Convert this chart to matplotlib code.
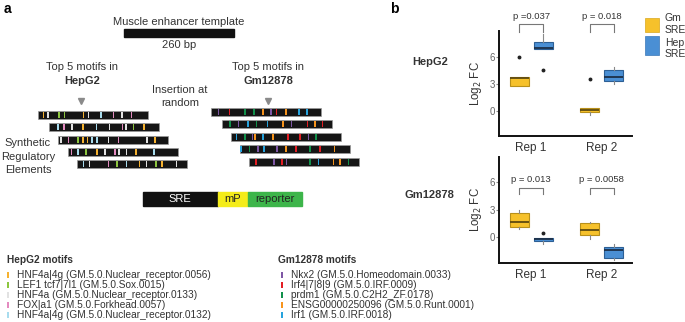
import matplotlib.pyplot as plt
from matplotlib.patches import Rectangle

plt.rcParams['font.family'] = ['Liberation Sans', 'DejaVu Sans']

# --- panel a: motivos y elementos sinteticos ---
hepg2_motifs = ["HNF4a|4g (GM.5.0.Nuclear_receptor.0056)",
                "LEF1 tcf7|7l1 (GM.5.0.Sox.0015)",
                "HNF4a (GM.5.0.Nuclear_receptor.0133)",
                "FOX|a1 (GM.5.0.Forkhead.0057)",
                "HNF4a|4g (GM.5.0.Nuclear_receptor.0132)"]
hepg2_colors = ['#F6B230', '#8DC63F', '#E2E2E2', '#E48BC0', '#A8DCEE']

gm_motifs = ["Nkx2 (GM.5.0.Homeodomain.0033)",
             "Irf4|7|8|9 (GM.5.0.IRF.0009)",
             "prdm1 (GM.5.0.C2H2_ZF.0178)",
             "ENSG00000250096 (GM.5.0.Runt.0001)",
             "Irf1 (GM.5.0.IRF.0018)"]
gm_colors = ['#7E57A5', '#E31E24', '#11914B', '#F7941D', '#27A3DD']

template_bp = 260

# posicion (bp) e indice del motivo en cada elemento sintetico
hepg2_pos = [[13, 23, 50, 62, 107, 119, 149, 178, 199, 221],
             [21, 35, 53, 80, 112, 142, 173, 181, 199, 224],
             [6, 24, 46, 58, 69, 79, 91, 118, 142, 209, 229],
             [9, 24, 43, 69, 88, 112, 121, 139, 161, 204],
             [16, 30, 75, 95, 118, 148, 165, 187, 201, 236]]
hepg2_idx = [[0, 2, 1, 1, 0, 2, 4, 3, 2, 3],
             [4, 3, 2, 0, 4, 2, 3, 2, 1, 0],
             [2, 3, 1, 0, 0, 4, 4, 2, 3, 2, 0],
             [3, 4, 1, 0, 2, 3, 2, 2, 0, 4],
             [4, 2, 3, 1, 4, 0, 2, 1, 0, 2]]

gm_pos = [[18, 44, 81, 102, 124, 142, 156, 178, 209, 228],
          [18, 38, 61, 81, 107, 143, 164, 201, 219, 237],
          [13, 33, 51, 57, 76, 99, 135, 163, 183, 201],
          [2, 22, 43, 57, 87, 109, 132, 165, 189, 223],
          [16, 58, 77, 88, 143, 163, 199, 214, 234]]
gm_idx = [[0, 1, 2, 2, 3, 0, 1, 3, 4, 4],
          [2, 0, 4, 2, 4, 3, 0, 1, 3, 1],
          [4, 2, 0, 3, 4, 3, 1, 1, 0, 2],
          [4, 2, 0, 4, 0, 3, 1, 2, 1, 3],
          [1, 0, 1, 0, 2, 4, 3, 3, 2]]

# --- panel b: log2 FC (whislo, q1, mediana, q3, whishi) ---
reps = ["Rep 1", "Rep 2"]
hepg2_gm_box = [[2.8, 2.8, 3.65, 3.8, 3.8], [-0.45, -0.15, 0.1, 0.37, 0.37]]
hepg2_gm_out = [[6.0], [3.5]]
hepg2_hep_box = [[6.85, 6.85, 6.95, 7.7, 8.6], [2.95, 3.35, 3.8, 4.5, 4.9]]
hepg2_hep_out = [[4.6], []]
hepg2_p = ["p =0.037", "p = 0.018"]

gm_gm_box = [[0.88, 1.1, 1.7, 2.7, 2.97], [-0.2, 0.25, 0.8, 1.5, 1.7]]
gm_gm_out = [[], []]
gm_hep_box = [[-0.8, -0.4, -0.25, -0.1, -0.1], [-2.53, -2.35, -1.43, -1.07, -0.8]]
gm_hep_out = [[0.4], []]
gm_p = ["p = 0.013", "p = 0.0058"]

amarillo = '#F6C12B'
azul = '#4A8FD4'
gris_txt = '#333333'

fig = plt.figure(figsize=(6.85, 3.22), dpi=100)
ax0 = fig.add_axes([0, 0, 1, 1])
ax0.set_xlim(0, 685)
ax0.set_ylim(322, 0)
ax0.axis('off')

ax0.text(4, 9, "a", fontsize=10, fontweight='bold', va='center')
ax0.text(390, 9, "b", fontsize=10, fontweight='bold', va='center')

# plantilla
ax0.text(179, 22, "Muscle enhancer template", fontsize=8, ha='center', va='center', color=gris_txt)
ax0.add_patch(Rectangle((124, 29), 110, 8, color='#111111'))
ax0.text(179, 45, "260 bp", fontsize=8, ha='center', va='center', color=gris_txt)

ax0.text(82, 67, "Top 5 motifs in", fontsize=8, ha='center', va='center', color=gris_txt)
ax0.text(82, 81, "HepG2", fontsize=8, fontweight='bold', ha='center', va='center', color=gris_txt)
ax0.text(268, 67, "Top 5 motifs in", fontsize=8, ha='center', va='center', color=gris_txt)
ax0.text(268, 81, "Gm12878", fontsize=8, fontweight='bold', ha='center', va='center', color=gris_txt)
ax0.text(180, 90, "Insertion at", fontsize=8, ha='center', va='center', color=gris_txt)
ax0.text(180, 103, "random", fontsize=8, ha='center', va='center', color=gris_txt)
ax0.plot([81, 268], [101, 101], 'v', color='#8a8a8a', markersize=5)

ax0.text(28, 143, "Synthetic", fontsize=8, ha='center', va='center', color=gris_txt)
ax0.text(28, 157, "Regulatory", fontsize=8, ha='center', va='center', color=gris_txt)
ax0.text(28, 170, "Elements", fontsize=8, ha='center', va='center', color=gris_txt)

escala = 110 / template_bp


def dibujar_elementos(x0s, y0s, posiciones, indices, colores):
    for x0, yc, pos, idx in zip(x0s, y0s, posiciones, indices):
        ax0.add_patch(Rectangle((x0, yc - 3.8), 110, 7.6, facecolor='#151515',
                                edgecolor='#9a9a9a', linewidth=0.5))
        for p, i in zip(pos, idx):
            ax0.add_patch(Rectangle((x0 + p * escala - 0.7, yc - 2.8), 1.5, 5.6,
                                    color=colores[i], linewidth=0))


dibujar_elementos([38, 49.3, 58.3, 67.7, 76.7], [115, 127, 140, 152, 164],
                  hepg2_pos, hepg2_idx, hepg2_colors)
dibujar_elementos([210.7, 222.3, 231, 240, 249.3], [112, 124, 137, 149, 162],
                  gm_pos, gm_idx, gm_colors)

# construccion SRE - mP - reporter
ax0.add_patch(Rectangle((143, 192), 75, 14, color='#111111'))
ax0.add_patch(Rectangle((218, 192), 30, 14, color='#F4EC1A'))
ax0.add_patch(Rectangle((248, 192), 54, 14, color='#3DB54A'))
ax0.text(180, 199, "SRE", fontsize=8, color='white', ha='center', va='center')
ax0.text(233, 199, "mP", fontsize=8, color='#222222', ha='center', va='center')
ax0.text(275, 199, "reporter", fontsize=8, color='#222222', ha='center', va='center')

# leyendas de motivos
ax0.text(7, 260, "HepG2 motifs", fontsize=7.3, fontweight='bold', va='center', color=gris_txt)
for k, (nombre, c) in enumerate(zip(hepg2_motifs, hepg2_colors)):
    y = 274.5 + k * 10
    ax0.add_patch(Rectangle((7.3, y - 3), 1.8, 6, color=c, linewidth=0))
    ax0.text(17, y, nombre, fontsize=7.3, va='center', color=gris_txt)

ax0.text(278, 260, "Gm12878 motifs", fontsize=7.3, fontweight='bold', va='center', color=gris_txt)
for k, (nombre, c) in enumerate(zip(gm_motifs, gm_colors)):
    y = 274.5 + k * 10
    ax0.add_patch(Rectangle((281.3, y - 3), 1.8, 6, color=c, linewidth=0))
    ax0.text(291, y, nombre, fontsize=7.3, va='center', color=gris_txt)

# leyenda panel b
ax0.add_patch(Rectangle((645, 18), 14, 14, facecolor=amarillo, edgecolor='#d9a81c', linewidth=0.5))
ax0.add_patch(Rectangle((645, 36), 14, 19, facecolor=azul, edgecolor='#3a78b8', linewidth=0.5))
ax0.text(665, 18, "Gm", fontsize=7.5, va='center', color=gris_txt)
ax0.text(665, 30, "SRE", fontsize=7.5, va='center', color=gris_txt)
ax0.text(665, 43, "Hep", fontsize=7.5, va='center', color=gris_txt)
ax0.text(665, 54, "SRE", fontsize=7.5, va='center', color=gris_txt)

ax0.text(430, 62, "HepG2", fontsize=8, fontweight='bold', ha='center', va='center', color=gris_txt)
ax0.text(429, 195, "Gm12878", fontsize=8, fontweight='bold', ha='center', va='center', color=gris_txt)

# --- boxplots ---
desp = 0.17
ancho = 0.27


def cajas(ax, cajas_gm, out_gm, cajas_hep, out_hep, pvals, ylim, y_br, y_pata, y_txt):
    for datos, outs, signo, fc, ec, mc in [(cajas_gm, out_gm, -1, amarillo, '#b8901a', '#5e4a10'),
                                          (cajas_hep, out_hep, 1, azul, '#2d5f94', '#1c2f48')]:
        stats = []
        for b, o in zip(datos, outs):
            stats.append(dict(whislo=b[0], q1=b[1], med=b[2], q3=b[3], whishi=b[4], fliers=o))
        ax.bxp(stats, positions=[1 + signo * desp, 2 + signo * desp], widths=ancho,
               patch_artist=True, showcaps=False,
               boxprops=dict(facecolor=fc, edgecolor=ec, linewidth=0.8),
               medianprops=dict(color=mc, linewidth=1.3),
               whiskerprops=dict(color='#8a8a8a', linewidth=0.8),
               flierprops=dict(marker='o', markersize=1.8, markerfacecolor='#222222',
                               markeredgecolor='#222222'))
    for k, p in enumerate(pvals):
        xa, xb = k + 1 - desp, k + 1 + desp
        ax.plot([xa, xa, xb, xb], [y_pata, y_br, y_br, y_pata], color='#777777',
                linewidth=0.8, clip_on=False)
        ax.text(k + 1, y_txt, p, fontsize=6.8, ha='center', va='center', color=gris_txt,
                clip_on=False)
    ax.set_xlim(0.545, 2.43)
    ax.set_ylim(*ylim)
    ax.set_xticks([1, 2])
    ax.set_xticklabels(reps)
    ax.set_yticks([0, 3, 6])
    for s in ['top', 'right']:
        ax.spines[s].set_visible(False)
    for s in ['left', 'bottom']:
        ax.spines[s].set_linewidth(1.4)
        ax.spines[s].set_color('#111111')
    ax.tick_params(axis='x', length=0, pad=4, labelsize=8.5, labelcolor=gris_txt)
    ax.tick_params(axis='y', length=2, pad=1, labelsize=7, labelcolor='#666666', color='#888888')
    ax.set_ylabel("Log$_2$ FC", fontsize=8.3, color=gris_txt, labelpad=4)
    ax.set_facecolor('none')


ax1 = fig.add_axes([499 / 685, 1 - 136 / 322, 133 / 685, 105 / 322])
cajas(ax1, hepg2_gm_box, hepg2_gm_out, hepg2_hep_box, hepg2_hep_out, hepg2_p,
      (-2.8, 8.9), 9.67, 8.78, 10.55)

ax2 = fig.add_axes([499 / 685, 1 - 263 / 322, 133 / 685, 106 / 322])
cajas(ax2, gm_gm_box, gm_gm_out, gm_hep_box, gm_hep_out, gm_p,
      (-2.85, 8.8), 5.4, 4.7, 6.37)

fig.savefig("out.png", dpi=100)
